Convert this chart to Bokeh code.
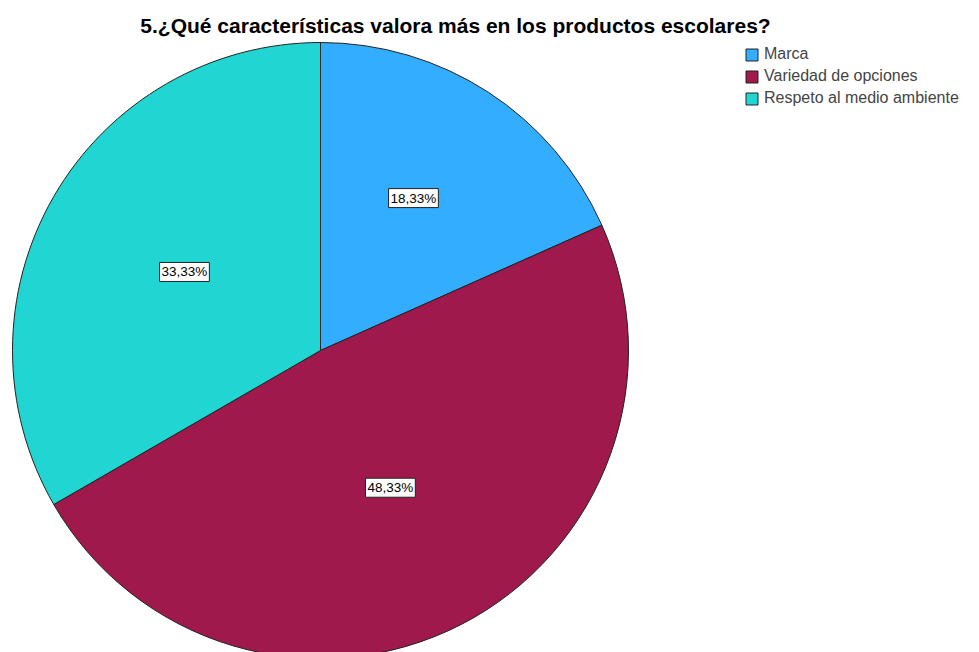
import numpy as np
from bokeh.plotting import figure
from bokeh.models import Range1d, ColumnDataSource, Label, Legend, LegendItem
from bokeh.core.properties import value
from bokeh.embed import file_html
from bokeh.resources import INLINE

title_text = "5.¿Qué características valora más en los productos escolares?"
categories = ["Marca", "Variedad de opciones", "Respeto al medio ambiente"]
percentages = [18.33, 48.33, 33.33]
colors = ["#33adff", "#a0194d", "#21d6d2"]

FONT = "Liberation Sans"
W, H = 979, 652
p = figure(width=W, height=H, x_range=Range1d(0, W), y_range=Range1d(0, H),
           output_backend="svg", toolbar_location=None, min_border=0)
p.axis.visible = False
p.grid.visible = False
p.outline_line_color = None

cx, cy, r = 320, 302, 308
fr = np.array(percentages) / np.sum(percentages)
ends = np.pi / 2 - 2 * np.pi * np.cumsum(fr)
starts = np.concatenate([[np.pi / 2], ends[:-1]])
mids = (starts + ends) / 2
label_r = np.array([0.59, 0.5, 0.51]) * r

src = ColumnDataSource(dict(
    start=starts, end=ends, color=colors, cat=categories,
    lx=cx + label_r * np.cos(mids) - np.array([6, 0, 0]),
    ly=cy + label_r * np.sin(mids),
    lbl=[f"{v:.2f}%".replace(".", ",") for v in percentages],
))

wr = p.wedge(x=cx, y=cy, radius=r, start_angle="start", end_angle="end",
             direction="clock", fill_color="color", line_color="#222222",
             line_width=1, source=src)

p.text(x="lx", y="ly", text="lbl", source=src, text_align="center",
       text_baseline="middle", text_font=value(FONT), text_font_size="13.5px",
       text_color="black", background_fill_color="white",
       border_line_color="#222222", border_line_width=1, padding=2)

p.add_layout(Label(x=455, y=627, text=title_text, text_align="center",
                   text_baseline="middle", text_font=FONT,
                   text_font_size="21px", text_font_style="bold", text_color="black"))

items = [LegendItem(label=c, renderers=[wr], index=i) for i, c in enumerate(categories)]
legend = Legend(items=items, location=(744, 544), glyph_width=15, glyph_height=15,
                label_height=20, spacing=2, padding=0, margin=0,
                border_line_color=None, background_fill_alpha=0,
                label_text_font=FONT, label_text_font_size="16px",
                label_standoff=5)
p.add_layout(legend)

open("out.html", "w").write(file_html(p, INLINE))
